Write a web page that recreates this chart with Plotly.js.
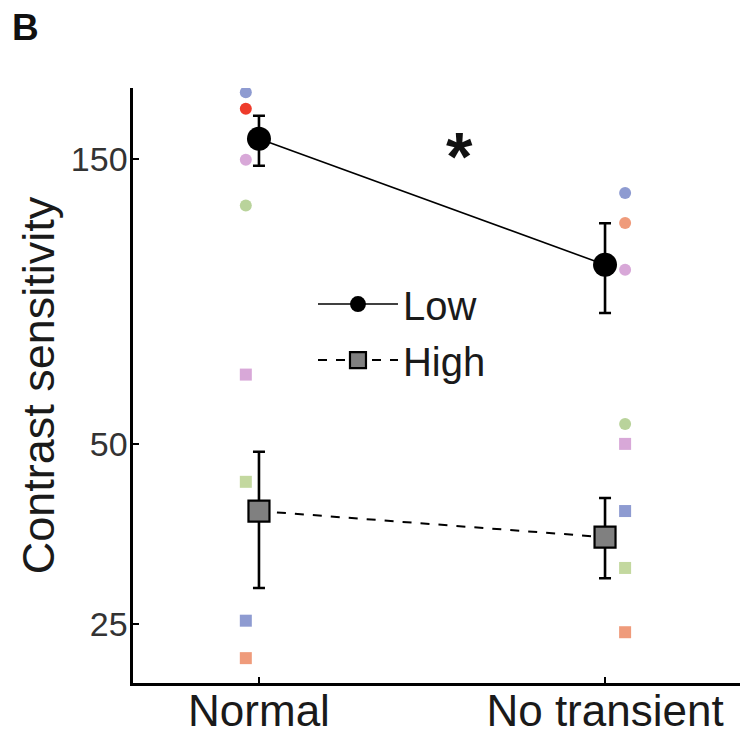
<!DOCTYPE html>
<html>
<head>
<meta charset="utf-8">
<script src="https://cdn.plot.ly/plotly-3.0.1.min.js"></script>
<style>html,body{margin:0;padding:0;background:#fff;}#chart{width:747px;height:735px;}</style>
</head>
<body>
<div id="chart"></div>
<script>
// ---- data ----
const categories = ["Normal", "No transient"];
const tickValsY = [25, 50, 150];

const lowMean = [162, 99.7];
const lowUpper = [177, 117];
const lowLower = [146, 82.8];

const highMean = [38.6, 34.9];
const highUpper = [48.5, 40.6];
const highLower = [28.7, 29.8];

// individual observers (Low = circles, High = squares)
const normalLowDots = [193.8, 181.8, 149.4, 125.3];
const normalLowColors = ["#8e9bd1", "#ee3b2b", "#d8a8d8", "#b9d39b"];
const noTransLowDots = [131.4, 117.1, 97.8, 54.0];
const noTransLowColors = ["#8e9bd1", "#ef9b7b", "#d8a8d8", "#b9d39b"];
const normalHighDots = [65.3, 43.2, 25.3, 21.9];
const normalHighColors = ["#d8a8d8", "#c3d89f", "#8e9bd1", "#ef9b7b"];
const noTransHighDots = [50.0, 38.6, 31.0, 24.2];
const noTransHighColors = ["#d8a8d8", "#8e9bd1", "#c3d89f", "#ef9b7b"];

// ---- build ----
const xIdx = categories.map((c, i) => i);
const dotOffset = [-0.038, 0.058];
function dotTrace(vals, colors, catIndex, symbol) {
  return {
    x: vals.map(() => catIndex + dotOffset[catIndex]),
    y: vals,
    mode: "markers",
    type: "scatter",
    showlegend: false,
    hoverinfo: "skip",
    marker: { color: colors, size: 12, symbol: symbol, line: { width: 0 } }
  };
}

const traces = [
  dotTrace(normalLowDots, normalLowColors, 0, "circle"),
  dotTrace(noTransLowDots, noTransLowColors, 1, "circle"),
  dotTrace(normalHighDots, normalHighColors, 0, "square"),
  dotTrace(noTransHighDots, noTransHighColors, 1, "square"),
  {
    name: "Low",
    legendgroup: "low",
    x: xIdx,
    y: lowMean,
    type: "scatter",
    mode: "lines+markers",
    line: { color: "#000", width: 1.6 },
    marker: { symbol: "circle", size: 24, color: "#000" },
    error_y: {
      type: "data", symmetric: false,
      array: lowMean.map((m, i) => lowUpper[i] - m),
      arrayminus: lowMean.map((m, i) => m - lowLower[i]),
      color: "#000", thickness: 2.6, width: 6
    }
  },
  {
    name: "High",
    legendgroup: "high",
    x: xIdx,
    y: highMean,
    type: "scatter",
    mode: "lines+markers",
    line: { color: "#000", width: 2, dash: "9px,9px" },
    marker: { symbol: "square", size: 21, color: "#808080", line: { color: "#000", width: 2.2 } },
    error_y: {
      type: "data", symmetric: false,
      array: highMean.map((m, i) => highUpper[i] - m),
      arrayminus: highMean.map((m, i) => m - highLower[i]),
      color: "#000", thickness: 2.6, width: 6
    }
  }
];

const font = "Liberation Sans, Arial, sans-serif";
const layout = {
  width: 747, height: 735,
  margin: { l: 133, r: 7, t: 88, b: 52 },
  paper_bgcolor: "#fff", plot_bgcolor: "#fff",
  font: { family: font, color: "#1a1a1a" },
  showlegend: true,
  legend: {
    x: 0.2965, y: 0.6915, xanchor: "left", yanchor: "top",
    font: { size: 40, family: font, color: "#1a1a1a" },
    bgcolor: "rgba(0,0,0,0)",
    traceorder: "grouped", tracegroupgap: 1,
    itemsizing: "trace", itemwidth: 80
  },
  xaxis: {
    range: [-0.364, 1.39],
    tickmode: "array", tickvals: xIdx, ticktext: categories,
    ticks: "inside", ticklen: 6, tickwidth: 2, tickcolor: "#000",
    showline: true, linecolor: "#000", linewidth: 2.6,
    showgrid: false, zeroline: false,
    ticklabelstandoff: -12,
    tickfont: { size: 44, family: font, color: "#1a1a1a" }
  },
  yaxis: {
    type: "log",
    range: [Math.log10(19.9), Math.log10(197)],
    tickmode: "array", tickvals: tickValsY, ticktext: tickValsY.map(String),
    ticks: "inside", ticklen: 6, tickwidth: 2, tickcolor: "#000",
    showline: true, linecolor: "#000", linewidth: 2.6,
    showgrid: false, zeroline: false,
    ticklabelstandoff: -4,
    tickfont: { size: 34, family: font, color: "#333" },
    title: { text: "Contrast sensitivity", font: { size: 45, family: font, color: "#1a1a1a" }, standoff: 2 }
  },
  annotations: [
    { text: "<b>B</b>", xref: "paper", yref: "paper", x: -0.203, y: 1.102, xanchor: "left", yanchor: "middle",
      showarrow: false, font: { size: 37, family: font, color: "#111" } },
    { text: "<b>*</b>", xref: "paper", yref: "paper", x: 0.538, y: 0.885, xanchor: "center", yanchor: "middle",
      showarrow: false, font: { size: 68, family: font, color: "#111" } }
  ]
};

Plotly.newPlot("chart", traces, layout, { displayModeBar: false, staticPlot: true });
</script>
</body>
</html>
